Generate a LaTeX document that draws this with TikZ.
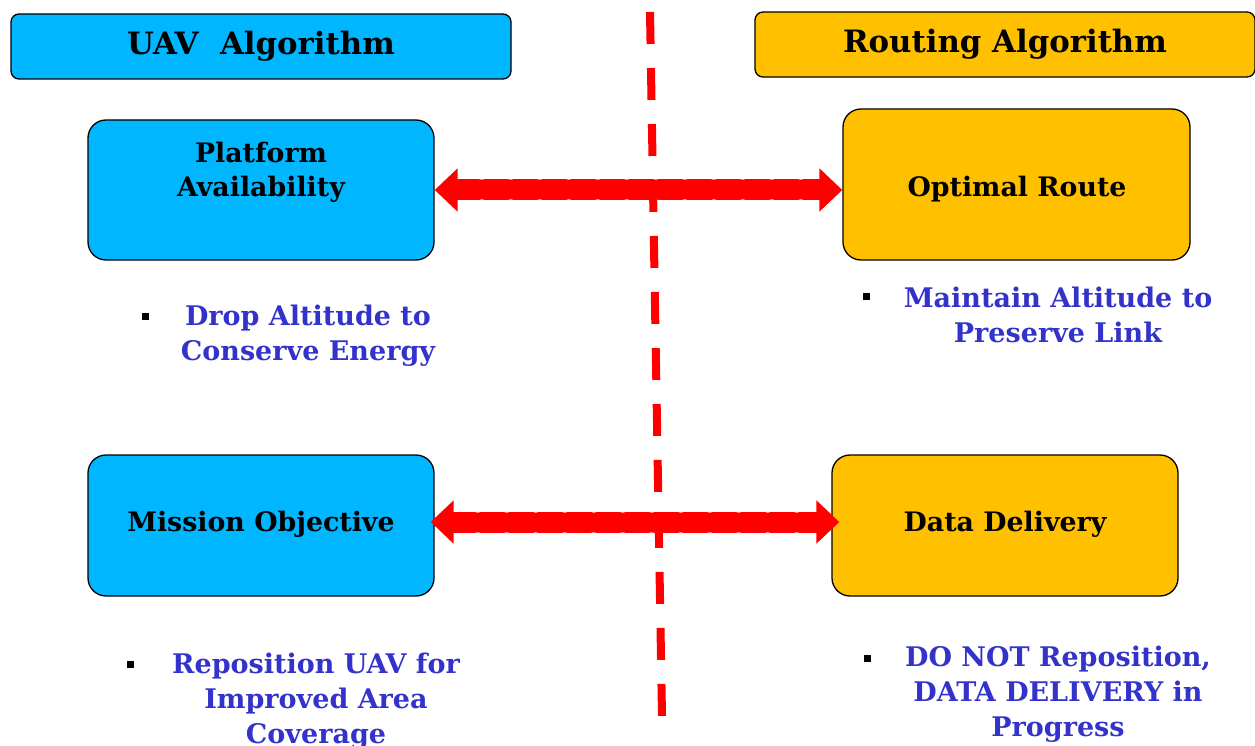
\documentclass[tikz,border=0pt]{standalone}
\usepackage{fontspec}
\setmainfont{DejaVu Serif}
\usetikzlibrary{arrows.meta}
\definecolor{uavblue}{HTML}{00B7FF}
\definecolor{routegold}{HTML}{FFC000}
\definecolor{txtblue}{HTML}{3333CC}
\definecolor{arrred}{HTML}{FF0000}
\tikzset{
  hdr/.style={draw=black, line width=1.3pt, rounded corners=8pt, inner sep=0pt,
    font=\fontsize{30.8}{36}\selectfont\bfseries},
  blk/.style={draw=black, line width=1.3pt, rounded corners=18pt, inner sep=0pt},
  lbl/.style={font=\fontsize{26.8}{34}\selectfont\bfseries, align=center, text=black},
  note/.style={font=\fontsize{27}{35}\selectfont\bfseries, align=center, text=txtblue},
  bul/.style={fill=black, minimum size=7pt, inner sep=0pt},
  bigarrow/.style={draw=arrred, line width=21pt, dash pattern=on 22pt off 7pt, line cap=round,
    {Triangle[length=23pt,width=42pt,fill=arrred]}-{Triangle[length=23pt,width=42pt,fill=arrred]}},
}
\begin{document}
\begin{tikzpicture}[x=1pt,y=-1pt]
\useasboundingbox (0,0) rectangle (1255,746);
% headers
\node[hdr, fill=uavblue, minimum width=500pt, minimum height=65pt] (uav) at (261,46.5) {UAV\ \ Algorithm};
\node[hdr, fill=routegold, minimum width=500pt, minimum height=65pt] (rout) at (1005,44.5) {Routing Algorithm};
% boxes
\node[blk, fill=uavblue, minimum width=346pt, minimum height=140pt] (pa) at (261,190) {};
\node[blk, fill=routegold, minimum width=347pt, minimum height=151pt] (or) at (1016.5,184.5) {};
\node[blk, fill=uavblue, minimum width=346pt, minimum height=141pt] (mo) at (261,525.5) {};
\node[blk, fill=routegold, minimum width=346pt, minimum height=141pt] (dd) at (1005,525.5) {};
\node[lbl] (paT) at (261,172.5) {Platform\\Availability};
\node[lbl] (orT) at (1017,189) {Optimal Route};
\node[lbl] (moT) at (261,524) {Mission Objective};
\node[lbl] (ddT) at (1005,524) {Data Delivery};
% divider
\coordinate (dtop) at (650,12);
\coordinate (dbot) at (662,716);
\draw[arrred, line width=8pt, dash pattern=on 32pt off 24pt] (dtop) -- (dbot);
% arrows
\draw[bigarrow] (pa.east) -- (pa.east -| or.west);
\draw[bigarrow] ([xshift=-4pt,yshift=3.5pt]mo.east) -- ([xshift=8pt,yshift=3.5pt]mo.east -| dd.west);
% notes
\node[bul] (b1) at (145,316) {};
\node[note] (n1) at (308,335.5) {Drop Altitude to\\Conserve Energy};
\node[bul] (b2) at (866,296) {};
\node[note] (n2) at (1058,315) {Maintain Altitude to\\Preserve Link};
\node[bul] (b3) at (130,664) {};
\node[note] (n3) at (316,701) {Reposition UAV for\\Improved Area\\Coverage};
\node[bul] (b4) at (867,658) {};
\node[note] (n4) at (1058,694.5) {DO NOT Reposition,\\DATA DELIVERY in\\Progress};
\end{tikzpicture}
\end{document}
